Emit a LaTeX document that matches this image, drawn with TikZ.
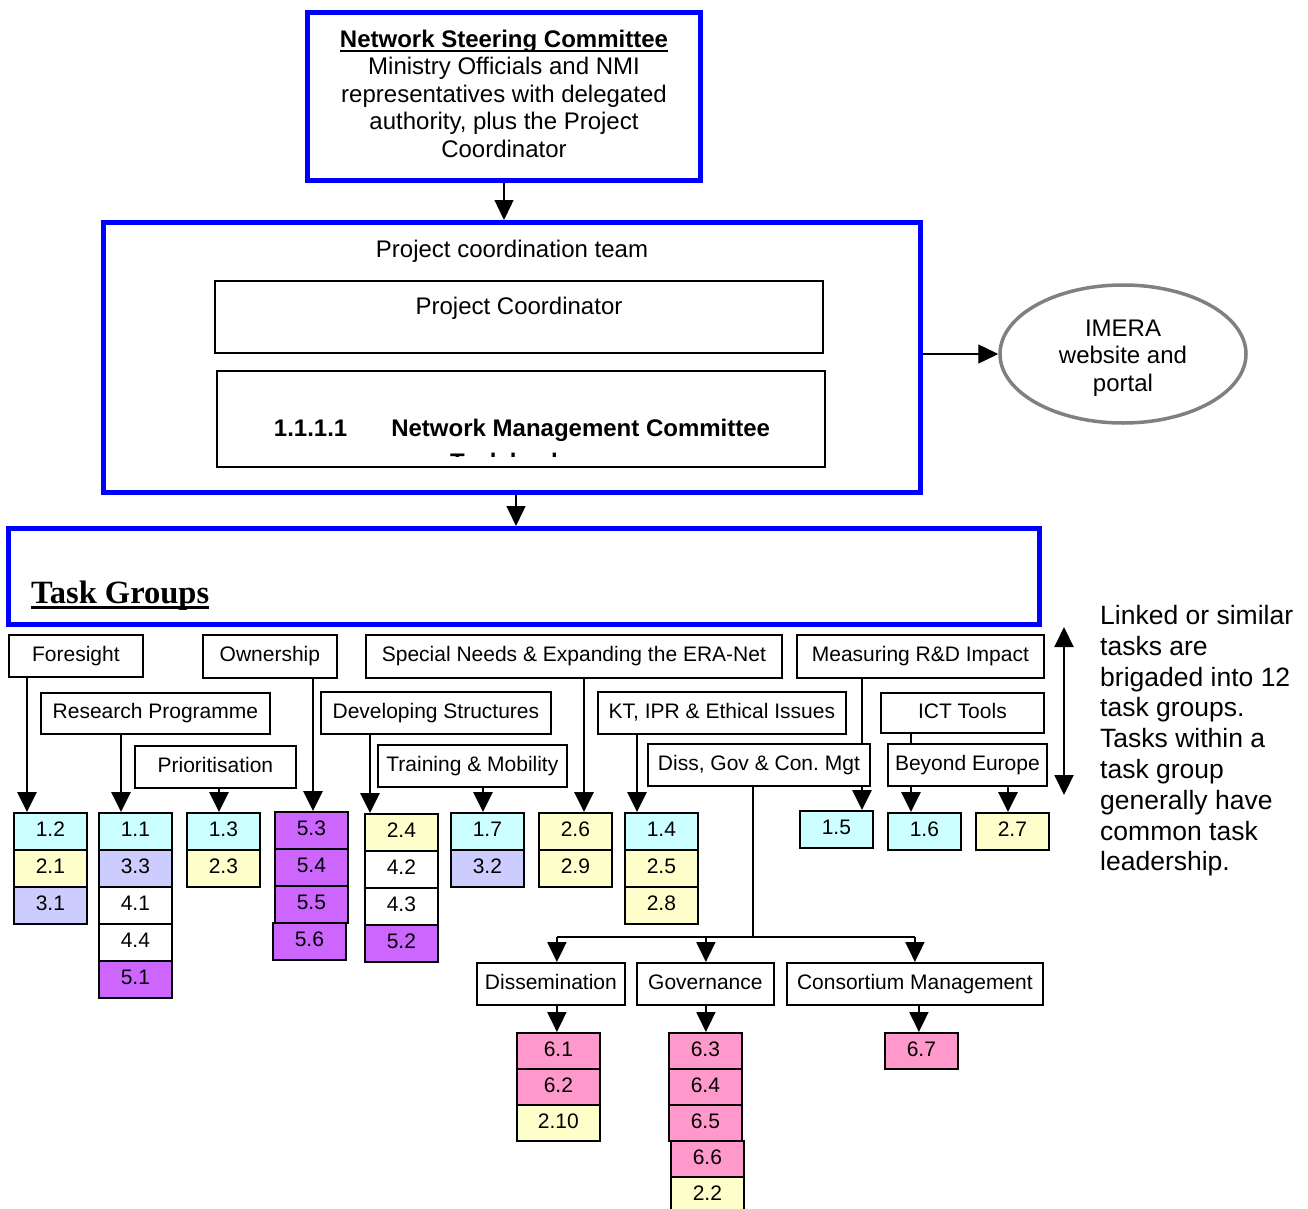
\documentclass[tikz,border=0pt]{standalone}
\usepackage{fontspec}
\setmainfont{Liberation Sans}
\newfontfamily\headserif{Liberation Serif}
\usetikzlibrary{arrows.meta,shapes.geometric}
\pgfdeclarelayer{bg}
\pgfsetlayers{bg,main}
\frenchspacing

\definecolor{tcyan}{HTML}{CCFFFF}
\definecolor{tyellow}{HTML}{FFFFCC}
\definecolor{tlav}{HTML}{CCCCFF}
\definecolor{tpurple}{HTML}{CC66FF}
\definecolor{tpink}{HTML}{FF99CC}
\definecolor{frameblue}{HTML}{0000FF}
\definecolor{imeragray}{HTML}{808080}

% underline with chosen offset and thickness
\newsavebox\ulinebox
\newcommand\ulined[3]{\sbox\ulinebox{#3}\rlap{\rule[#1]{\wd\ulinebox}{#2}}\usebox\ulinebox}
% one task cell: name, x, y, colour, text
\newcommand\taskcell[5]{\node[tcell,fill=#4] (#1) at (#2,#3) {#5};}

\begin{document}
\begin{tikzpicture}[x=1pt,y=-1pt,
  bluebox/.style={draw=frameblue,line width=5pt,inner sep=0pt},
  plain/.style={inner sep=0pt,font=\fontsize{24}{27.5}\selectfont},
  grp/.style={draw,line width=1.8pt,fill=white,inner sep=0pt,anchor=north west,
    text height=15.3pt,text depth=4.4pt,font=\fontsize{21}{24}\selectfont},
  tcell/.style={draw,line width=1.8pt,inner sep=0pt,anchor=north west,
    minimum width=73pt,minimum height=37pt,text height=15.3pt,text depth=4.4pt,
    font=\fontsize{21}{24}\selectfont},
  arr/.style={line width=2.8pt,-{Triangle[length=20pt,width=19pt]}},
  thinarr/.style={line width=1.4pt,-{Triangle[length=20pt,width=19pt]}},
  bus/.style={line width=2pt},
]
\useasboundingbox (0,0) rectangle (1308,1209);

% ---------- steering committee ----------
\node[bluebox,minimum width=393pt,minimum height=168pt] (nsc) at (504,96.5) {};
\node[plain,align=center,anchor=north] (nsctext) at (504,29.8)
  {\ulined{-4.3pt}{1.8pt}{\bfseries Network Steering Committee}\\
   Ministry Officials and NMI\\representatives with delegated\\
   authority, plus the Project\\Coordinator};

% ---------- project coordination team ----------
\node[bluebox,minimum width=817pt,minimum height=270pt] (pct) at (511.5,357.5) {};
\node[plain,anchor=base] (pcttitle) at (512,257.6) {Project coordination team};
\node[draw,line width=1.5pt,minimum width=608pt,minimum height=72pt] (pcbox) at (519,317) {};
\node[plain,anchor=base] (pctext) at (519,314.6) {Project Coordinator};
\node[draw,line width=1.8pt,minimum width=608pt,minimum height=96pt] (nmc) at (521,419) {};
\node[plain,anchor=base,font=\bfseries\fontsize{24}{27.5}\selectfont] (nmctext) at (522,436.6)
  {1.1.1.1\hspace{44pt}Network Management Committee};
\begin{scope}
  \clip (219,373) rectangle (823,456);
  \node[plain,anchor=base,font=\bfseries\fontsize{24}{27.5}\selectfont] (nmcnext) at (522,470) {Task leaders};
\end{scope}

% ---------- website ----------
\node[ellipse,draw=imeragray,line width=3.5pt,minimum width=246pt,minimum height=138pt] (imera) at (1123,354) {};
\node[plain,align=center,anchor=north] (imeratext) at (1123,319.4) {IMERA\\website and\\portal};

% ---------- task groups frame ----------
\node[bluebox,minimum width=1030.5pt,minimum height=96pt] (tg) at (523.75,576.5) {};
\node[inner sep=0pt,anchor=base west,font=\headserif\bfseries\fontsize{32.5}{36}\selectfont] (tgtitle) at (31,603)
  {\ulined{-6.4pt}{3pt}{Task Groups}};

\draw[thinarr] (nsc.south) -- (nsc.south |- pct.north);
\draw[thinarr] (pct.east |- imera.west) -- (imera.west);
\path ([xshift=4.5pt]pct.south) coordinate (pctdown);
\draw[thinarr] (pctdown) -- (pctdown |- tg.north);

% ---------- group labels ----------
\node[grp,minimum width=134pt,minimum height=42pt] (fore) at (8,634) {Foresight};
\node[grp,minimum width=134pt,minimum height=43pt] (own) at (202,634) {Ownership};
\node[grp,minimum width=416pt,minimum height=43pt] (spec) at (365,634) {Special Needs \& Expanding the ERA-Net};
\node[grp,minimum width=247pt,minimum height=43pt] (meas) at (796,634) {Measuring R\&D Impact};
\node[grp,minimum width=229pt,minimum height=41pt] (rp) at (40,692) {Research Programme};
\node[grp,minimum width=230pt,minimum height=42pt] (dev) at (320,691) {Developing Structures};
\node[grp,minimum width=248pt,minimum height=42pt] (kt) at (597,691) {KT, IPR \& Ethical Issues};
\node[grp,minimum width=163pt,minimum height=40pt] (ict) at (880,692) {ICT Tools};
\node[grp,minimum width=161pt,minimum height=42pt] (prio) at (134,745) {Prioritisation};
\node[grp,minimum width=189pt,minimum height=42pt] (tm) at (377,744) {Training \& Mobility};
\node[grp,minimum width=222pt,minimum height=42pt] (diss) at (647,743) {Diss, Gov \& Con. Mgt};
\node[grp,minimum width=159pt,minimum height=42pt] (beyond) at (887,743) {Beyond Europe};

\node[grp,minimum width=148pt,minimum height=42pt] (dsm) at (476,962) {Dissemination};
\node[grp,minimum width=137pt,minimum height=42pt] (gov) at (636,962) {Governance};
\node[grp,minimum width=256pt,minimum height=42pt] (cons) at (786,962) {Consortium Management};

% ---------- task cells ----------
\taskcell{c12}{13}{812}{tcyan}{1.2}
\taskcell{c21}{13}{849}{tyellow}{2.1}
\taskcell{c31}{13}{886}{tlav}{3.1}

\taskcell{c11}{98}{812}{tcyan}{1.1}
\taskcell{c33}{98}{849}{tlav}{3.3}
\taskcell{c41}{98}{886}{white}{4.1}
\taskcell{c44}{98}{923}{white}{4.4}
\taskcell{c51}{98}{960}{tpurple}{5.1}

\taskcell{c13}{186}{812}{tcyan}{1.3}
\taskcell{c23}{186}{849}{tyellow}{2.3}

\taskcell{c53}{274}{811}{tpurple}{5.3}
\taskcell{c54}{274}{848}{tpurple}{5.4}
\taskcell{c55}{274}{885}{tpurple}{5.5}
\taskcell{c56}{272}{922}{tpurple}{5.6}

\taskcell{c24}{364}{813}{tyellow}{2.4}
\taskcell{c42}{364}{850}{white}{4.2}
\taskcell{c43}{364}{887}{white}{4.3}
\taskcell{c52}{364}{924}{tpurple}{5.2}

\taskcell{c17}{450}{812}{tcyan}{1.7}
\taskcell{c32}{450}{849}{tlav}{3.2}

\taskcell{c26}{538}{812}{tyellow}{2.6}
\taskcell{c29}{538}{849}{tyellow}{2.9}

\taskcell{c14}{624}{812}{tcyan}{1.4}
\taskcell{c25}{624}{849}{tyellow}{2.5}
\taskcell{c28}{624}{886}{tyellow}{2.8}

\taskcell{c15}{799}{810}{tcyan}{1.5}
\taskcell{c16}{887}{812}{tcyan}{1.6}
\taskcell{c27}{975}{812}{tyellow}{2.7}

\begin{scope}[tcell/.append style={minimum height=36pt}]
\node[tcell,minimum width=83pt,fill=tpink] (c61) at (516,1032) {6.1};
\node[tcell,minimum width=83pt,fill=tpink] (c62) at (516,1068) {6.2};
\node[tcell,minimum width=83pt,fill=tyellow] (c210) at (516,1104) {2.10};
\taskcell{c63}{668}{1032}{tpink}{6.3}
\taskcell{c64}{668}{1068}{tpink}{6.4}
\taskcell{c65}{668}{1104}{tpink}{6.5}
\taskcell{c66}{670}{1140}{tpink}{6.6}
\taskcell{c22}{670}{1176}{tyellow}{2.2}
\taskcell{c67}{884}{1032}{tpink}{6.7}
\end{scope}

% ---------- side note ----------
\node[anchor=north west,inner sep=0pt,align=left,font=\fontsize{26.5}{30.8}\selectfont] (note) at (1100,605)
  {Linked or similar\\tasks are\\brigaded into 12\\task groups.\\Tasks within a\\task group\\generally have\\common task\\leadership.};
\coordinate (spantop) at (1064,627);
\coordinate (spanbot) at (1064,795);
\draw[line width=2pt,{Triangle[length=20pt,width=19pt]}-{Triangle[length=20pt,width=19pt]}] (spantop) -- (spanbot);

% ---------- connectors (behind the boxes) ----------
\begin{pgfonlayer}{bg}
\path ([xshift=19pt]fore.south west) coordinate (foreA)
      ([xshift=81pt]rp.south west) coordinate (rpA)
      ([xshift=85pt]prio.south west) coordinate (prioA)
      ([xshift=111pt]own.south west) coordinate (ownA)
      ([xshift=50pt]dev.south west) coordinate (devA)
      ([xshift=106pt]tm.south west) coordinate (tmA)
      ([xshift=219pt]spec.south west) coordinate (specA)
      ([xshift=40pt]kt.south west) coordinate (ktA)
      ([xshift=66pt]meas.south west) coordinate (measA)
      ([xshift=31pt]ict.south west) coordinate (ictA)
      ([xshift=121pt]beyond.south west) coordinate (beyondA)
      ([xshift=106pt]diss.south west) coordinate (dissA);
\draw[arr] (foreA) -- (foreA |- c12.north);
\draw[arr] (rpA) -- (rpA |- c11.north);
\draw[arr] (prioA) -- (prioA |- c13.north);
\draw[arr] (ownA) -- (ownA |- c53.north);
\draw[arr] (devA) -- (devA |- c24.north);
\draw[arr] (tmA) -- (tmA |- c17.north);
\draw[arr] (specA) -- (specA |- c26.north);
\draw[arr] (ktA) -- (ktA |- c14.north);
\draw[arr] (measA) -- (measA |- c15.north);
\draw[arr] (ictA) -- (ictA |- c16.north);
\draw[arr] (beyondA) -- (beyondA |- c27.north);

\coordinate (busy) at (0,937);
\path ([xshift=80.9pt]dsm.north west) coordinate (dsmT)
      ([xshift=69.9pt]gov.north west) coordinate (govT)
      ([xshift=128.9pt]cons.north west) coordinate (consT)
      ([xshift=80.9pt]dsm.south west) coordinate (dsmB)
      ([xshift=69.9pt]gov.south west) coordinate (govB)
      ([xshift=132.9pt]cons.south west) coordinate (consB);
\draw[bus] (dissA) -- (dissA |- busy);
\draw[bus] (dsmT |- busy) -- (consT |- busy);
\draw[arr,line width=2pt] (dsmT |- busy) -- (dsmT);
\draw[arr,line width=2pt] (govT |- busy) -- (govT);
\draw[arr,line width=2pt] (consT |- busy) -- (consT);
\draw[arr,line width=2pt] (dsmB) -- (dsmB |- c61.north);
\draw[arr,line width=2pt] (govB) -- (govB |- c63.north);
\draw[arr,line width=2pt] (consB) -- (consB |- c67.north);
\end{pgfonlayer}
\end{tikzpicture}
\end{document}
